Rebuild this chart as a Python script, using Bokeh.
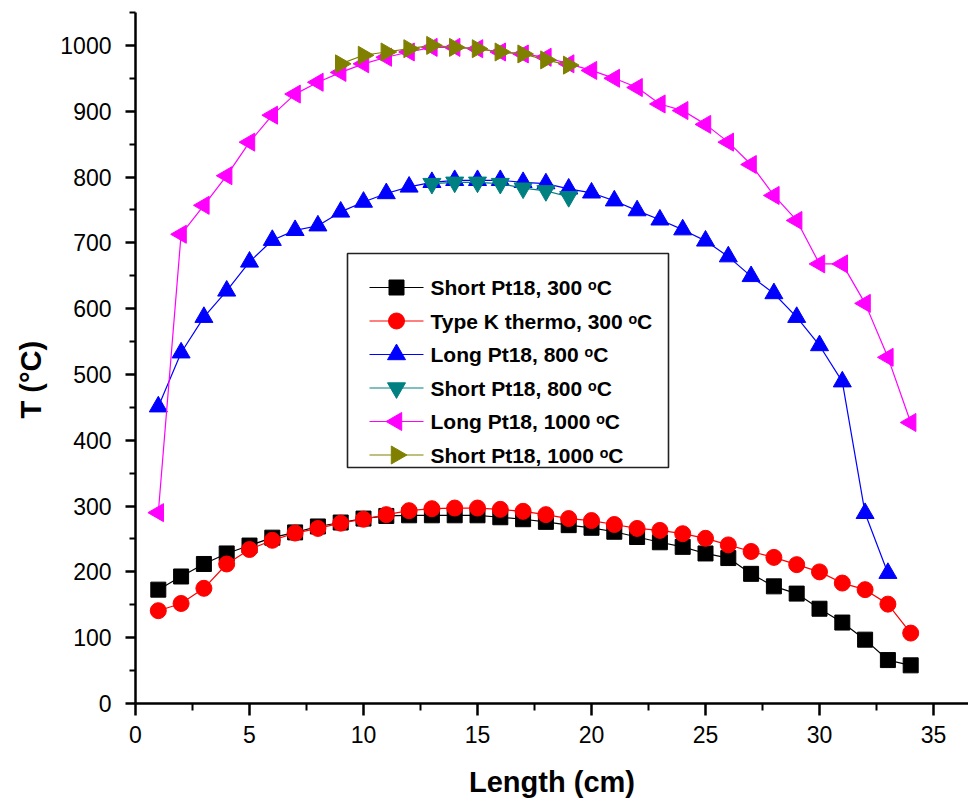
import math
from bokeh.plotting import figure
from bokeh.models import Range1d, FixedTicker, Title
from bokeh.core.properties import value
from bokeh.embed import file_html
from bokeh.resources import INLINE

# ---- data ----
x_all = list(range(1, 35))
short300 = [173, 193, 212, 228, 240, 252, 260, 269, 275, 281, 285, 286, 286, 286, 286, 283, 280, 276, 271,
            267, 261, 253, 245, 238, 228, 221, 197, 178, 167, 144, 123, 97, 66, 58]
typek300 = [141, 152, 175, 212, 234, 248, 259, 266, 274, 280, 287, 293, 296, 297, 297, 295, 292, 287, 281,
            278, 272, 266, 263, 258, 251, 241, 231, 222, 211, 200, 183, 173, 151, 107]
x_long800 = list(range(1, 34))
long800 = [451, 533, 587, 627, 671, 704, 719, 726, 747, 762, 775, 785, 792, 795, 795, 795, 792, 790, 782,
           776, 764, 749, 735, 720, 703, 679, 649, 623, 587, 544, 489, 289, 198]
x_short800 = list(range(13, 20))
short800 = [790, 792, 792, 790, 783, 779, 770]
x_long1000 = list(range(1, 35))
long1000 = [290, 713, 757, 802, 853, 894, 926, 944, 959, 972, 982, 990, 997, 997, 995, 990, 987, 982, 972,
            962, 950, 936, 911, 901, 880, 853, 819, 772, 734, 668, 668, 608, 526, 427]
x_short1000 = list(range(9, 20))
short1000 = [972, 985, 990, 995, 1000, 997, 995, 990, 987, 978, 970]

x_major = [0, 5, 10, 15, 20, 25, 30, 35]
x_minor = [2.5, 7.5, 12.5, 17.5, 22.5, 27.5, 32.5]
y_major = [0, 100, 200, 300, 400, 500, 600, 700, 800, 900, 1000]
y_minor = [50, 150, 250, 350, 450, 550, 650, 750, 850, 950, 1050]

labels = ["Short Pt18, 300 \u1d52C", "Type K thermo, 300 \u1d52C", "Long Pt18, 800 \u1d52C",
          "Short Pt18, 800 \u1d52C", "Long Pt18, 1000 \u1d52C", "Short Pt18, 1000 \u1d52C"]
colors = ["black", "red", "blue", "#008080", "magenta", "#808000"]
markers = ["square", "circle", "triangle", "inverted_triangle", "triangle", "triangle"]
angles = [0.0, 0.0, 0.0, 0.0, math.pi / 2, -math.pi / 2]
sizes = [15, 16, 18, 18, 18, 18]

FONT = "Liberation Sans"

# ---- layout (px) ----
W, H = 968, 800
FL, FT, FB = 135, 12, 703
FR = W
X0, X1 = 0, (FR - FL) / 22.8
Y0, Y1 = 0, 1050


def dx(px):
    return X0 + (px - FL) / (FR - FL) * (X1 - X0)


def dy(py):
    return Y0 + (FB - py) / (FB - FT) * (Y1 - Y0)


p = figure(width=W, height=H, output_backend="svg", toolbar_location=None,
           x_range=Range1d(X0, X1), y_range=Range1d(Y0, Y1),
           min_border_left=FL, min_border_right=0, min_border_top=FT, min_border_bottom=H - FB)
p.outline_line_color = None
p.xgrid.visible = False
p.ygrid.visible = False

xs_list = [x_all, x_all, x_long800, x_short800, x_long1000, x_short1000]
ys_list = [short300, typek300, long800, short800, long1000, short1000]
for xs, ys, col, mk, ang, sz in zip(xs_list, ys_list, colors, markers, angles, sizes):
    p.line(xs, ys, line_color=col, line_width=1.2)
    p.scatter(xs, ys, marker=mk, size=sz, angle=ang, fill_color=col, line_color=col)

# ---- legend (drawn manually so that rotated triangles show) ----
LEG_L, LEG_R, LEG_T, LEG_B = 347, 668, 253, 467
ROW0, ROW_DY = 287, 33.5
LINE_X0, LINE_X1, MARK_X, TEXT_X = 369, 423, 396, 430
p.quad(left=[dx(LEG_L)], right=[dx(LEG_R)], top=[dy(LEG_T)], bottom=[dy(LEG_B)],
       fill_color="white", line_color="#222222", line_width=1.6)
for i, (lab, col, mk, ang, sz) in enumerate(zip(labels, colors, markers, angles, sizes)):
    yy = dy(ROW0 + i * ROW_DY)
    p.segment(x0=[dx(LINE_X0)], x1=[dx(LINE_X1)], y0=[yy], y1=[yy], line_color=col, line_width=1.2)
    p.scatter([dx(MARK_X)], [yy], marker=mk, size=sz, angle=ang, fill_color=col, line_color=col)
    p.text([dx(TEXT_X)], [yy], text=[lab], text_font=value(FONT), text_font_style="bold",
           text_font_size="21px", text_baseline="middle", text_align="left", text_color="black")

for ax in (p.xaxis[0], p.yaxis[0]):
    ax.axis_line_width = 2.5
    ax.axis_line_color = "black"
    ax.major_tick_line_width = 2.5
    ax.minor_tick_line_width = 2
    ax.major_tick_in = 0
    ax.minor_tick_in = 0
    ax.major_label_text_font = FONT
    ax.major_label_text_font_size = "23px"
    ax.major_label_text_color = "black"
    ax.axis_label_text_font = FONT
    ax.axis_label_text_font_style = "bold"
    ax.axis_label_text_font_size = "29px"
    ax.axis_label_text_color = "black"

p.xaxis.ticker = FixedTicker(ticks=x_major, minor_ticks=x_minor)
p.yaxis.ticker = FixedTicker(ticks=y_major, minor_ticks=y_minor)
p.xaxis.major_tick_out = 12
p.xaxis.minor_tick_out = 7
p.yaxis.major_tick_out = 10
p.yaxis.minor_tick_out = 6
p.xaxis.major_label_standoff = 10
p.yaxis.major_label_standoff = 14
p.xaxis.axis_label = "Length (cm)"
p.xaxis.axis_label_standoff = 20

ytitle = Title(text="T (\u00b0C)", align="left", offset=FB - 418, text_font=FONT,
               text_font_style="bold", text_font_size="29px", text_color="black", standoff=22)
p.add_layout(ytitle, "left")

open("out.html", "w").write(file_html(p, INLINE))
